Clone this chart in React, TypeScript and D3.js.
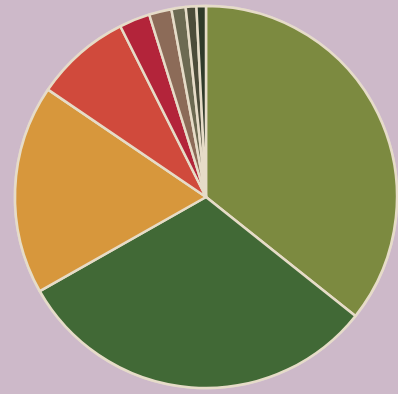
import React from "react";
import * as d3 from "d3";

const categories = ["A", "B", "C", "D", "E", "F", "G", "H", "I"];
const values = [35.7, 31.1, 17.7, 8.1, 2.6, 1.9, 1.2, 0.9, 0.8];
const colors = ["#7c8a40", "#416936", "#d7973c", "#d04a3c", "#b3243a", "#8c6b58", "#6c6a52", "#4c4c3a", "#2f3a2a"];

export default function App() {
  const W = 398, H = 394;
  const cx = 206, cy = 197, r = 191;
  const pie = d3.pie<number>().sort(null).value((d) => d)(values);
  const arc = d3.arc<d3.PieArcDatum<number>>().innerRadius(0).outerRadius(r);
  return (
    <svg width={W} height={H} style={{ position: "absolute", left: 0, top: 0 }}>
      <rect width={W} height={H} fill="#cdb9c9" />
      <g transform={`translate(${cx},${cy})`}>
        <circle r={r + 1.5} fill="#dccfd6" />
        {pie.map((p, i) => (
          <path key={categories[i]} d={arc(p) || ""} fill={colors[i]} stroke="#e6dcc8" strokeWidth={2.5} strokeLinejoin="round" />
        ))}
      </g>
    </svg>
  );
}
